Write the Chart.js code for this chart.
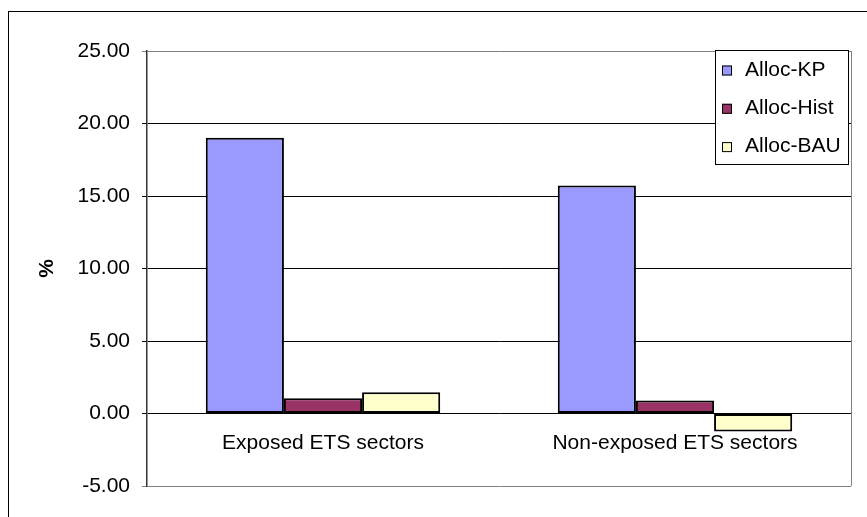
<!DOCTYPE html>
<html>
<head>
<meta charset="utf-8">
<script src="https://cdn.jsdelivr.net/npm/chart.js@4"></script>
<style>
  html, body { margin: 0; padding: 0; background: #fff; }
  #wrap { width: 867px; height: 517px; position: relative; }
</style>
</head>
<body>
<div id="wrap"><canvas id="chart"></canvas></div>
<script>
// Sector categories and allocation scenario results (%)
const categories = ['Exposed ETS sectors', 'Non-exposed ETS sectors'];
const seriesNames = ['Alloc-KP', 'Alloc-Hist', 'Alloc-BAU'];
const allocKP = [19.02, 15.72];
const allocHist = [1.06, 0.90];
const allocBAU = [1.47, -1.24];
const yTickValues = [-5, 0, 5, 10, 15, 20, 25];

const FONT = 'Arial, "Liberation Sans", sans-serif';
const colors = ['#9999FF', '#993366', '#FFFFCC'];

// Outer frame and right edge of the plot area
const framePlugin = {
  id: 'frame',
  beforeDraw(chart) {
    const ctx = chart.ctx;
    ctx.save();
    ctx.fillStyle = '#fff';
    ctx.fillRect(0, 0, chart.width, chart.height);
    ctx.strokeStyle = '#000';
    ctx.lineWidth = 1;
    ctx.strokeRect(8.5, 11.5, chart.width + 20, chart.height + 20);
    ctx.restore();
  },
  beforeDatasetsDraw(chart) {
    const { ctx, chartArea: a } = chart;
    ctx.save();
    ctx.strokeStyle = '#808080';
    ctx.lineWidth = 1;
    ctx.beginPath();
    ctx.moveTo(Math.round(a.right) + 0.5, a.top);
    ctx.lineTo(Math.round(a.right) + 0.5, a.bottom);
    ctx.stroke();
    ctx.restore();
  }
};

// Boxed legend in the upper right corner
const boxLegendPlugin = {
  id: 'boxLegend',
  afterDraw(chart) {
    const ctx = chart.ctx;
    const a = chart.chartArea;
    const boxW = 133, boxH = 114;
    const bx = a.right - 3 - boxW, by = a.top - 1;
    ctx.save();
    ctx.fillStyle = '#fff';
    ctx.fillRect(bx, by, boxW, boxH);
    ctx.strokeStyle = '#000';
    ctx.lineWidth = 1;
    ctx.strokeRect(bx + 0.5, by + 0.5, boxW, boxH);
    ctx.font = '21px ' + FONT;
    ctx.textBaseline = 'alphabetic';
    ctx.textAlign = 'left';
    chart.data.datasets.forEach((ds, i) => {
      const base = by + 25.5 + i * 38.3;
      ctx.fillStyle = ds.backgroundColor;
      ctx.fillRect(bx + 7, base - 10, 10, 10);
      ctx.strokeStyle = '#000';
      ctx.strokeRect(bx + 7.5, base - 9.5, 9, 9);
      ctx.fillStyle = '#000';
      ctx.fillText(ds.label, bx + 30, base);
    });
    ctx.restore();
  }
};

new Chart(document.getElementById('chart'), {
  type: 'bar',
  data: {
    labels: categories,
    datasets: [
      { label: seriesNames[0], data: allocKP, backgroundColor: colors[0] },
      { label: seriesNames[1], data: allocHist, backgroundColor: colors[1] },
      { label: seriesNames[2], data: allocBAU, backgroundColor: colors[2] }
    ].map(d => Object.assign(d, {
      borderColor: '#000',
      borderWidth: 2,
      borderSkipped: false,
      barPercentage: 1,
      categoryPercentage: 0.666
    }))
  },
  options: {
    responsive: true,
    maintainAspectRatio: false,
    animation: false,
    layout: { padding: { top: 51, bottom: 31, left: 0, right: 16 } },
    plugins: {
      legend: { display: false },
      tooltip: { enabled: false }
    },
    scales: {
      x: {
        type: 'category',
        position: { y: 0 },
        grid: { display: false, drawTicks: false },
        border: { display: false },
        ticks: { color: '#000', font: { family: FONT, size: 21 }, padding: 17, maxRotation: 0 }
      },
      y: {
        min: -5,
        max: 25,
        afterBuildTicks(scale) {
          scale.ticks = yTickValues.map(v => ({ value: v }));
        },
        afterFit(scale) { scale.width = 147; },
        grid: {
          color: c => (c.tick && (c.tick.value === 25 || c.tick.value === -5)) ? '#808080' : '#000',
          lineWidth: 1,
          tickLength: 5
        },
        border: { display: true, color: '#333', width: 1.5 },
        ticks: {
          color: '#000',
          font: { family: FONT, size: 21 },
          padding: 12,
          callback: v => Number(v).toFixed(2)
        },
        title: {
          display: true,
          text: '%',
          color: '#000',
          font: { family: FONT, size: 21, weight: 'bold' },
          padding: { top: 35, bottom: 0 }
        }
      }
    }
  },
  plugins: [framePlugin, boxLegendPlugin]
});
</script>
</body>
</html>
